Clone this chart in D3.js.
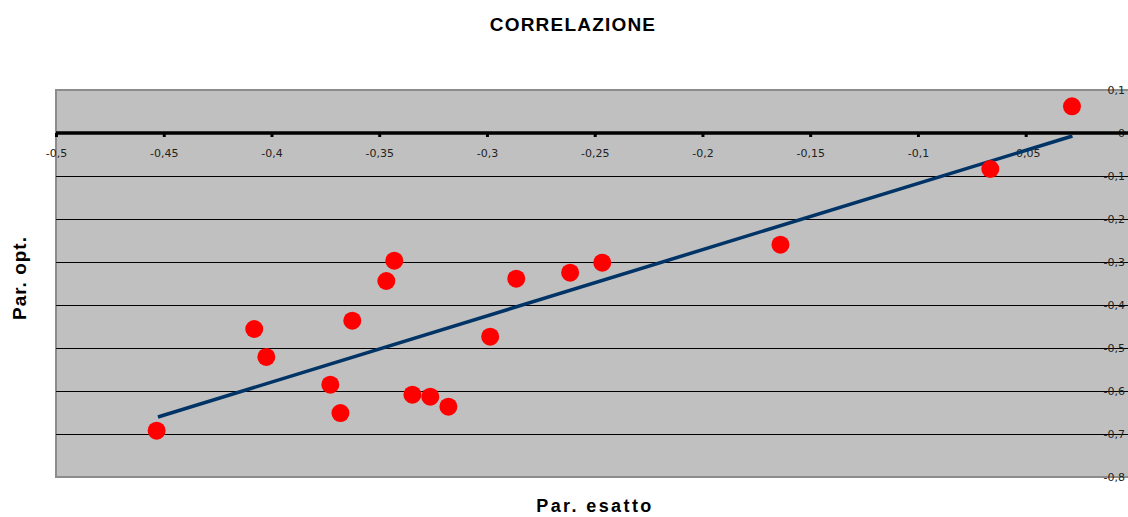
<!DOCTYPE html>
<html>
<head>
<meta charset="utf-8">
<script src="https://cdn.jsdelivr.net/npm/d3@7"></script>
<style>
  html, body { margin: 0; padding: 0; background: #fff; overflow: hidden; }
  svg { display: block; }
</style>
</head>
<body>
<svg id="chart" width="1128" height="517"></svg>
<script>
// Exact parameter vs optimised parameter
const parEsatto = [-0.4533, -0.4080, -0.4024, -0.3727, -0.3680, -0.3625, -0.3467, -0.3430,
                   -0.3346, -0.3263, -0.3179, -0.2985, -0.2864, -0.2614, -0.2465, -0.1638,
                   -0.0664, -0.0285];
const parOpt    = [-0.6923, -0.4558, -0.5209, -0.5853, -0.6512, -0.4365, -0.3442, -0.2970,
                   -0.6086, -0.6133, -0.6365, -0.4737, -0.3388, -0.3249, -0.3016, -0.2598,
                   -0.0837, 0.0621];
// Linear trend line (end points)
const trendX = [-0.4527, -0.0283];
const trendY = [-0.6605, -0.0070];

const xTicks = [-0.5, -0.45, -0.4, -0.35, -0.3, -0.25, -0.2, -0.15, -0.1, -0.05];
const yTicks = [0.1, 0, -0.1, -0.2, -0.3, -0.4, -0.5, -0.6, -0.7, -0.8];

const svg = d3.select("#chart");
const fmt = v => (Math.abs(v) < 1e-9 ? "0" : String(+v.toFixed(2)).replace(".", ","));

const x = d3.scaleLinear().domain([-0.5, 0]).range([56, 1133.4]);
const y = d3.scaleLinear().domain([-0.8, 0.1]).range([477, 90]);

// Plot area
svg.append("rect")
  .attr("x", x(-0.5)).attr("y", y(0.1))
  .attr("width", 1140 - x(-0.5)).attr("height", y(-0.8) - y(0.1))
  .attr("fill", "#c0c0c0").attr("stroke", "#8c8c8c").attr("stroke-width", 2);

// Horizontal gridlines
svg.append("g").selectAll("line")
  .data(yTicks.filter(v => v !== 0.1 && v !== -0.8 && v !== 0))
  .join("line")
  .attr("x1", x(-0.5)).attr("x2", 1140)
  .attr("y1", d => Math.round(y(d)) + 0.5).attr("y2", d => Math.round(y(d)) + 0.5)
  .attr("stroke", "#000").attr("stroke-width", 1.2);

// Y tick labels on the right
svg.append("g").selectAll("text")
  .data(yTicks).join("text")
  .attr("x", 1125).attr("y", d => y(d))
  .attr("dy", "0.35em")
  .attr("text-anchor", "end")
  .attr("font-family", "DejaVu Sans, sans-serif")
  .attr("font-size", 11).attr("fill", "#222")
  .text(fmt);

// X axis at y = 0
const xAxis = d3.axisBottom(x).tickValues(xTicks).tickSize(4).tickPadding(12).tickFormat(fmt);
const gx = svg.append("g").attr("transform", `translate(0,${y(0)})`).call(xAxis);
gx.select(".domain").attr("stroke", "#000").attr("stroke-width", 3.5).attr("d", `M${x(-0.5)},0H1140`);
gx.selectAll(".tick line").attr("stroke", "#000").attr("stroke-width", 3);
gx.selectAll(".tick text")
  .attr("font-family", "DejaVu Sans, sans-serif")
  .attr("font-size", 11).attr("fill", "#222");

// Trend line
svg.append("line")
  .attr("x1", x(trendX[0])).attr("y1", y(trendY[0]))
  .attr("x2", x(trendX[1])).attr("y2", y(trendY[1]))
  .attr("stroke", "#003366").attr("stroke-width", 3.5);

// Data points
svg.append("g").selectAll("circle")
  .data(parEsatto.map((v, i) => [v, parOpt[i]]))
  .join("circle")
  .attr("cx", d => x(d[0])).attr("cy", d => y(d[1]))
  .attr("r", 9).attr("fill", "#ff0000");

// Titles
svg.append("text")
  .attr("x", 573).attr("y", 31).attr("text-anchor", "middle")
  .attr("font-family", "Liberation Sans, Arial, sans-serif")
  .attr("font-weight", "bold").attr("font-size", 19)
  .attr("letter-spacing", 1.2)
  .text("CORRELAZIONE");

svg.append("text")
  .attr("x", 595).attr("y", 512).attr("text-anchor", "middle")
  .attr("font-family", "Liberation Sans, Arial, sans-serif")
  .attr("font-weight", "bold").attr("font-size", 18)
  .attr("letter-spacing", 2.4)
  .text("Par. esatto");

svg.append("text")
  .attr("transform", "translate(26,278) rotate(-90)")
  .attr("text-anchor", "middle")
  .attr("font-family", "Liberation Sans, Arial, sans-serif")
  .attr("font-weight", "bold").attr("font-size", 19)
  .attr("letter-spacing", 1)
  .text("Par. opt.");
</script>
</body>
</html>
